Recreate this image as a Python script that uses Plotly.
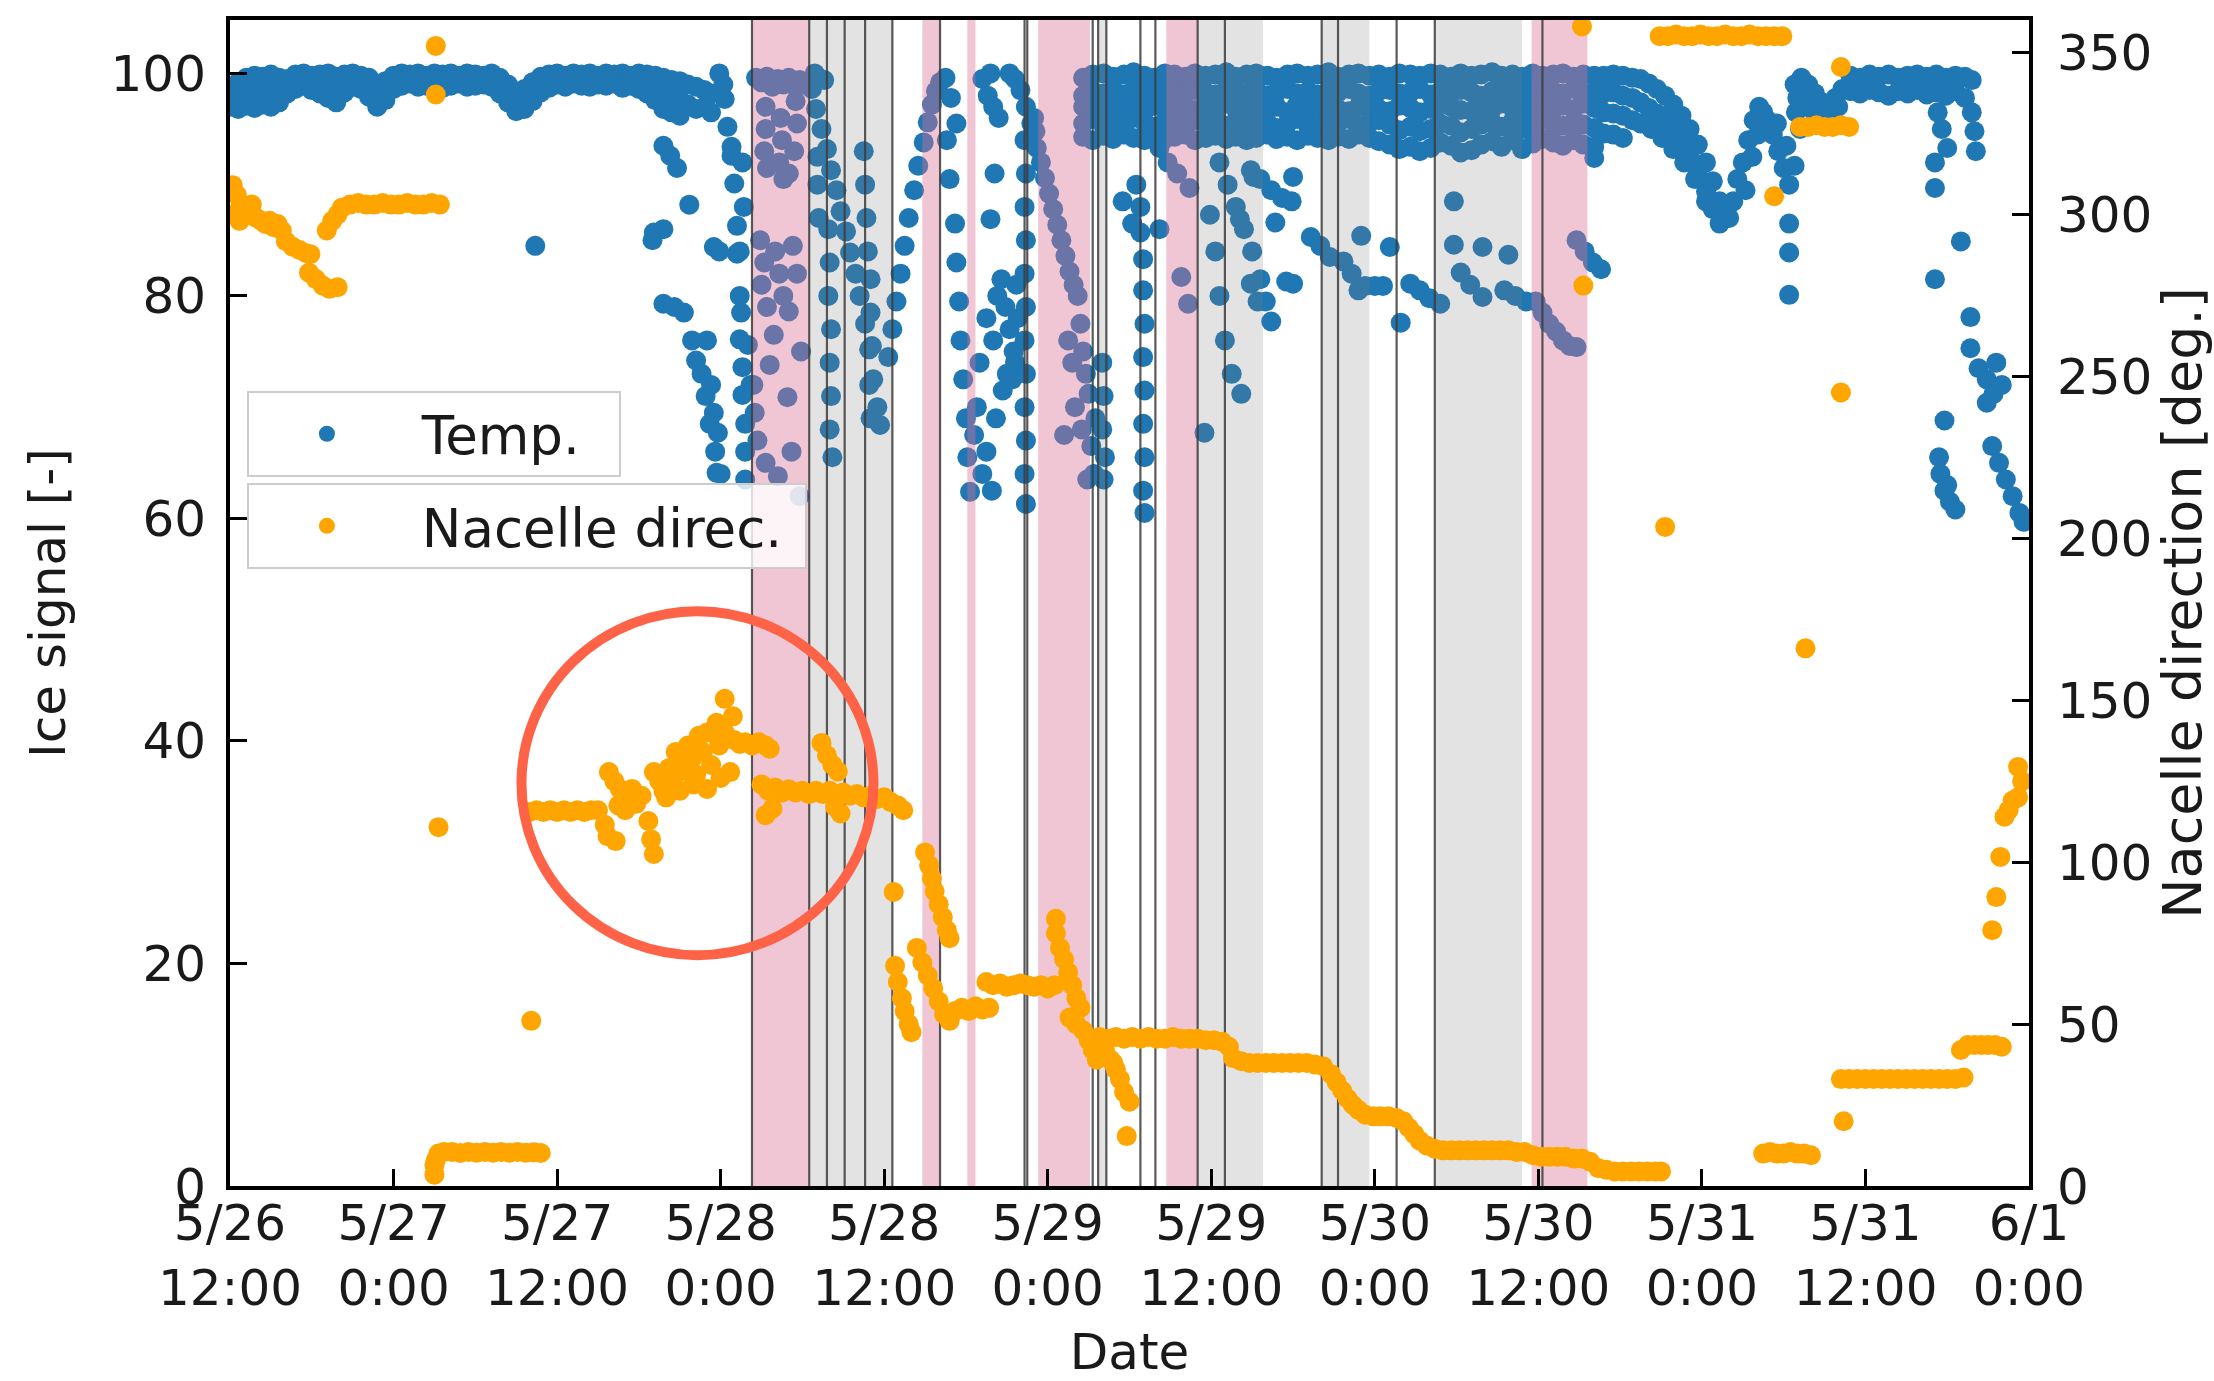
import pandas as pd
import plotly.graph_objects as go

START = pd.Timestamp("2020-05-26 12:00")
END = pd.Timestamp("2020-06-01 00:00")

# ---------------- tick labels ----------------
tick_times = ["2020-05-26 12:00", "2020-05-27 00:00", "2020-05-27 12:00", "2020-05-28 00:00",
              "2020-05-28 12:00", "2020-05-29 00:00", "2020-05-29 12:00", "2020-05-30 00:00",
              "2020-05-30 12:00", "2020-05-31 00:00", "2020-05-31 12:00", "2020-06-01 00:00"]
tick_labels = ["5/26<br>12:00", "5/27<br>0:00", "5/27<br>12:00", "5/28<br>0:00", "5/28<br>12:00",
               "5/29<br>0:00", "5/29<br>12:00", "5/30<br>0:00", "5/30<br>12:00", "5/31<br>0:00",
               "5/31<br>12:00", "6/1<br>0:00"]

# ---------------- Temp. (ice signal), hours after 5/26 12:00 ----------------
temp_band1_hours = [0.0, 0.6, 1.2, 1.8, 2.4, 3.0, 3.6, 4.2, 4.8, 5.4, 6.0, 6.6, 7.2, 7.8, 8.4, 9.0, 9.6,
                    10.2, 10.8, 11.4, 12.0, 12.6, 13.2, 13.8, 14.4, 15.0, 15.6, 16.2, 16.8, 17.4, 18.0,
                    18.6, 19.2, 19.8, 20.4, 21.0, 21.6, 22.2, 22.8, 23.4, 24.0, 24.6, 25.2, 25.8, 26.4,
                    27.0, 27.6, 28.2, 28.8, 29.4, 30.0, 30.6, 31.2, 31.8, 32.4]
temp_band1_top = [98.8, 99.2, 99.6, 99.8, 99.7, 99.9, 99.6, 99.5, 99.9, 100.0, 99.8, 99.9, 100.0, 99.7,
                  99.9, 100.0, 99.8, 99.6, 99.0, 99.3, 99.8, 100.0, 99.9, 100.0, 99.8, 100.0, 99.9,
                  100.0, 99.8, 100.0, 99.9, 99.8, 100.0, 99.6, 99.0, 98.3, 98.6, 99.2, 99.7, 99.9,
                  100.0, 99.8, 100.0, 99.9, 100.0, 99.8, 100.0, 99.9, 100.0, 99.8, 100.0, 99.9, 99.8,
                  99.6, 99.4]
temp_band1_mid = [97.9, 98.0, 98.3, 98.4, 98.5, 98.4, 98.5, 98.9, 99.2, 99.4, 99.2, 99.0, 98.9, 98.5,
                  99.1, 99.4, 99.2, 98.8, 98.0, 98.4, 99.2, 99.4, 99.5, 99.4, 99.3, 99.5, 99.3, 99.4,
                  99.5, 99.3, 99.4, 99.4, 99.4, 98.9, 98.2, 97.4, 97.7, 98.3, 99.0, 99.3, 99.5, 99.3,
                  99.5, 99.4, 99.4, 99.4, 99.5, 99.5, 99.3, 99.4, 99.3, 99.0, 98.7, 98.2, 98.0]
temp_band1_low = [97.0, 96.8, 97.1, 96.9, 97.2, 97.0, 97.4, 98.2, 98.6, 98.9, 98.5, 98.2, 97.8, 97.4,
                  98.3, 98.8, 98.6, 97.9, 97.0, 97.6, 98.6, 98.9, 99.1, 98.8, 98.9, 99.0, 98.7, 98.9,
                  99.1, 98.8, 98.9, 99.0, 98.8, 98.2, 97.4, 96.6, 96.8, 97.5, 98.3, 98.7, 99.0, 98.8,
                  99.1, 98.9, 98.8, 99.0, 98.9, 99.1, 98.7, 98.9, 98.6, 98.2, 97.6, 96.8, 96.5]

temp_band2_hours = [62.6, 63.3, 64.1, 64.8, 65.6, 66.3, 67.1, 67.8, 68.6, 69.3, 70.1, 70.8, 71.6, 72.3,
                    73.1, 73.8, 74.6, 75.3, 76.1, 76.8, 77.6, 78.3, 79.1, 79.8, 80.6, 81.3, 82.1, 82.8,
                    83.6, 84.3, 85.1, 85.8, 86.6, 87.3, 88.1, 88.8, 89.6, 90.3, 91.1, 91.8, 92.6, 93.3,
                    94.1, 94.8, 95.6, 96.3, 97.1, 97.8, 98.6, 99.3, 100.1]
temp_band2_r1 = [99.6, 99.9, 100.0, 99.7, 99.9, 100.1, 99.8, 99.6, 100.0, 99.9, 99.7, 100.0, 99.8, 99.9,
                 100.1, 99.7, 99.9, 100.0, 99.8, 99.6, 99.9, 100.0, 99.8, 99.9, 100.1, 99.7, 99.9, 100.0,
                 99.8, 99.9, 99.7, 100.0, 99.9, 99.8, 100.0, 99.9, 99.7, 100.0, 99.8, 99.9, 100.1, 99.8,
                 99.9, 99.7, 100.0, 99.8, 99.9, 100.0, 99.7, 99.9, 99.8]
temp_band2_r2 = [98.0, 98.4, 98.2, 98.6, 98.1, 98.5, 98.3, 98.0, 98.4, 98.6, 98.2, 98.5, 98.3, 98.1, 98.6,
                 98.4, 98.2, 98.5, 98.0, 98.3, 98.6, 98.2, 98.4, 98.1, 98.5, 98.3, 98.6, 98.2, 98.0, 98.4,
                 98.5, 98.2, 98.3, 98.6, 98.1, 98.4, 98.2, 98.5, 98.3, 98.0, 98.4, 98.6, 98.2, 98.3, 98.5,
                 98.1, 98.4, 98.2, 98.6, 98.3, 98.4]
temp_band2_r3 = [97.0, 97.3, 96.8, 97.2, 96.9, 97.3, 96.6, 97.1, 96.8, 97.3, 97.0, 96.7, 97.2, 96.9, 97.3,
                 96.8, 97.1, 97.3, 96.8, 97.0, 96.5, 97.2, 96.7, 96.9, 97.3, 96.8, 96.6, 97.0, 97.2, 96.8,
                 96.6, 97.1, 96.9, 96.5, 96.8, 97.2, 97.0, 96.7, 96.6, 97.1, 96.8, 97.3, 96.9, 96.6, 97.0,
                 97.2, 96.8, 97.1, 96.8, 97.3, 96.9]
temp_band2_r4 = [95.5, 95.9, 95.3, 95.8, 95.4, 96.0, 95.6, 95.2, 95.7, 95.9, 95.4, 95.8, 95.5, 96.0, 95.3,
                 95.7, 95.4, 95.8, 95.6, 95.1, 95.5, 95.9, 95.3, 95.2, 95.7, 95.5, 95.9, 95.3, 95.6, 95.8,
                 95.4, 94.9, 95.2, 94.8, 95.0, 95.5, 95.3, 94.7, 95.0, 95.4, 95.6, 95.2, 95.7, 95.0, 95.4,
                 95.8, 95.5, 95.3, 95.6, 95.4, 95.1]
temp_band2_r5 = [94.3, 94.0, 94.4, 94.1, 94.5, 94.2, 94.0, 94.4, 94.1, 94.3, 94.5, 94.0, 94.2, 94.4, 94.1,
                 94.3, 94.0, 94.2, 94.5, 94.1, 94.3, 94.0, 94.4, 94.2, 94.0, 94.3, 94.1, 94.5, 94.2, 93.9,
                 93.6, 93.2, 93.4, 93.0, 93.3, 93.8, 93.5, 92.9, 93.1, 93.6, 93.9, 93.4, 94.0, 93.2, 93.7,
                 94.1, 93.8, 93.5, 94.0, 93.6, 93.4]

# scattered readings (hour, value)
temp_scatter = [
    (22.4, 84.5),
    (33.0, 99.3), (33.0, 97.6), (33.0, 96.2), (33.6, 99.0), (33.6, 97.2), (34.2, 98.8), (34.2, 96.8),
    (34.8, 98.5), (34.8, 97.0), (35.3, 98.2), (35.3, 96.5), (32.4, 97.8), (31.8, 98.2),
    (31.1, 85.7), (31.0, 85.0), (31.8, 79.3), (31.8, 86.0), (32.6, 79.0), (33.3, 78.5), (33.7, 88.2),
    (32.8, 91.5), (32.3, 92.6), (31.8, 93.5), (33.9, 76.0), (34.2, 74.2), (34.6, 73.0), (34.9, 71.0),
    (35.2, 68.5), (35.6, 66.0), (36.0, 64.0), (35.0, 76.0), (35.3, 72.0), (35.5, 69.5), (35.8, 67.7),
    (35.7, 64.1), (35.9, 84.0), (35.5, 84.4),
    (35.9, 100.0), (36.2, 99.0), (36.3, 97.7), (36.5, 95.2), (36.8, 93.4), (36.8, 92.6), (37.0, 90.1),
    (37.2, 86.3), (37.2, 83.8), (37.4, 80.0), (37.4, 84.0), (37.5, 78.5), (37.4, 76.1), (37.6, 73.6),
    (37.6, 71.1), (37.8, 68.5), (37.8, 66.0), (37.8, 63.5), (37.6, 92.0), (37.7, 88.0), (38.0, 75.6),
    (38.2, 72.0), (38.5, 69.5), (38.7, 67.0),
    (38.6, 99.6), (39.0, 99.2), (39.4, 99.7), (39.8, 98.8), (40.2, 99.5), (40.6, 99.0), (41.0, 99.6),
    (41.4, 98.9), (41.8, 99.4), (42.2, 99.0),
    (39.3, 97.0), (39.3, 95.0), (39.2, 93.0), (39.4, 91.5), (40.4, 96.0), (40.5, 94.0), (40.3, 92.0),
    (40.6, 90.5), (41.5, 97.5), (41.6, 95.5), (41.4, 93.0), (41.0, 91.0),
    (38.9, 85.0), (39.2, 83.0), (39.0, 81.0), (39.4, 79.0), (40.0, 84.0), (40.3, 82.0), (40.6, 80.0),
    (41.0, 78.6), (41.3, 84.5), (41.6, 82.0), (39.6, 73.8), (40.9, 70.9), (39.3, 65.0), (40.2, 63.8),
    (41.2, 66.0), (41.8, 62.0), (38.4, 72.0), (39.9, 76.5), (41.9, 75.0),
    (42.7, 98.6), (43.0, 96.8), (43.4, 95.0), (43.8, 93.2), (44.1, 91.3), (44.5, 89.5), (44.8, 87.6),
    (45.2, 85.8), (45.5, 83.9), (45.9, 82.0), (46.2, 80.0), (46.6, 77.5), (46.9, 75.2), (47.2, 72.5),
    (47.5, 70.0), (47.7, 68.4),
    (43.1, 99.7), (43.1, 92.5), (43.1, 90.0), (43.2, 87.0), (42.9, 100.0), (43.6, 99.4),
    (43.9, 86.0), (44.0, 83.0), (43.9, 80.0), (44.1, 77.0), (44.0, 74.0), (44.1, 71.0), (44.0, 68.0),
    (44.2, 65.5),
    (46.5, 93.0), (46.6, 90.0), (46.7, 87.0), (46.8, 84.0), (47.0, 81.5), (47.0, 78.5), (47.1, 75.5),
    (46.9, 72.0), (47.0, 69.0),
    (48.3, 74.5), (48.6, 77.0), (48.9, 79.5), (49.2, 82.0), (49.5, 84.5), (49.8, 87.0), (50.2, 89.5),
    (50.5, 91.7), (50.9, 93.8), (51.2, 95.6), (51.5, 97.2), (51.8, 98.4), (52.1, 99.2),
    (52.5, 99.6), (52.9, 97.8), (53.3, 95.5), (52.6, 94.0), (52.8, 90.5),
    (53.2, 86.5), (53.3, 83.0), (53.5, 79.5), (53.6, 76.0), (53.8, 72.5), (54.0, 69.0), (54.1, 65.5),
    (54.3, 62.4),
    (55.2, 99.5), (55.6, 98.0), (56.0, 97.0), (56.4, 96.0), (55.8, 100.0), (55.8, 86.9), (56.1, 91.0),
    (54.8, 70.0), (55.0, 74.0), (55.5, 78.0), (56.0, 76.0), (56.3, 80.0), (56.6, 81.5), (56.9, 79.0),
    (57.2, 77.0), (57.5, 75.0), (57.0, 73.0), (56.7, 71.5), (57.4, 72.5), (56.2, 69.0), (57.7, 81.0),
    (57.8, 78.0), (57.6, 74.0), (55.5, 66.0), (54.6, 67.5), (55.9, 62.5), (55.2, 64.0),
    (57.6, 99.5), (58.0, 98.5), (58.4, 97.0), (58.8, 95.5), (57.2, 100.0),
    (58.3, 94.0), (58.4, 91.0), (58.3, 88.0), (58.4, 85.0), (58.3, 82.0), (58.4, 79.0), (58.3, 76.0),
    (58.4, 73.0), (58.3, 70.0), (58.4, 67.0), (58.3, 64.0), (58.4, 61.3),
    (59.2, 93.3), (59.5, 92.0), (59.8, 90.6), (60.1, 89.2), (60.4, 87.8), (60.7, 86.4), (61.0, 85.0),
    (61.3, 83.6), (61.6, 82.2), (61.9, 81.0), (62.2, 80.0), (62.4, 77.5), (62.6, 75.0), (62.8, 73.0),
    (63.0, 71.2), (59.0, 96.0), (59.1, 94.8),
    (61.5, 76.0), (61.8, 74.0), (62.0, 70.0), (62.5, 68.0), (63.2, 66.5), (63.5, 69.0), (63.4, 64.0),
    (62.9, 63.5), (61.2, 67.5),
    (64.0, 74.0), (64.1, 71.0), (64.0, 68.0), (64.2, 65.5), (64.1, 63.5),
    (65.5, 88.5), (66.2, 86.5), (66.8, 85.7), (68.2, 86.0), (66.5, 90.0), (66.8, 88.0), (67.0, 83.3),
    (67.0, 80.5), (67.1, 77.5), (67.0, 74.5), (67.1, 71.5), (67.0, 68.5), (67.1, 65.5), (67.0, 62.5),
    (67.1, 60.5),
    (68.2, 93.3), (68.8, 92.0), (69.5, 91.0), (70.4, 89.7), (69.8, 81.7), (70.3, 79.3), (71.5, 67.7),
    (71.9, 87.3), (72.3, 84.0), (72.6, 80.0), (73.0, 76.0), (73.5, 73.0), (74.2, 71.2),
    (72.6, 92.0), (73.2, 90.0), (73.8, 88.0), (74.4, 86.0), (75.0, 84.0), (75.6, 81.5), (76.0, 79.5),
    (76.4, 77.7),
    (74.9, 91.3), (75.6, 90.5), (76.4, 89.5), (77.2, 88.8), (77.9, 88.5), (77.5, 81.3),
    (74.1, 86.9), (76.7, 86.6), (74.9, 81.1), (75.4, 79.5), (78.0, 81.1), (78.0, 90.7), (75.1, 90.7),
    (79.3, 85.3), (80.0, 84.5), (80.7, 83.5), (81.7, 83.1), (83.0, 85.4), (82.3, 82.0), (82.8, 80.5),
    (83.3, 80.9), (84.0, 80.9), (84.6, 80.9), (85.1, 84.4), (85.9, 77.6), (86.6, 81.1), (87.3, 80.5),
    (88.0, 79.8), (88.8, 79.3), (89.8, 88.5), (89.8, 84.6), (90.3, 82.1), (91.0, 81.0), (91.9, 79.9),
    (91.9, 84.4), (93.8, 83.7), (93.5, 80.5), (94.3, 80.0), (95.1, 79.5),
    (95.8, 79.5), (96.3, 78.5), (96.8, 77.5), (97.3, 76.8), (97.8, 76.0), (98.3, 75.5), (98.8, 75.4),
    (98.8, 85.0), (99.4, 84.0), (100.0, 83.0), (100.6, 82.4), (100.1, 92.4),
]

temp_tail = [
    (100.8, 99.8), (100.8, 98.2), (100.8, 96.5), (100.8, 94.6), (101.5, 99.9), (101.5, 98.3),
    (101.5, 96.4), (101.5, 94.5), (102.2, 99.8), (102.2, 98.0), (102.2, 96.2), (102.2, 94.2),
    (102.9, 99.6), (102.9, 97.8), (102.9, 95.8),
    (103.5, 99.5), (104.1, 99.1), (104.7, 98.6), (105.3, 98.0), (105.9, 97.2), (106.5, 96.2),
    (107.1, 95.0), (107.7, 93.6), (108.3, 92.0), (108.8, 90.3), (109.3, 88.5), (109.7, 87.0),
    (103.5, 97.4), (104.1, 96.9), (104.7, 96.4), (105.3, 95.8), (105.9, 95.0), (106.5, 93.9),
    (107.1, 92.5), (107.7, 91.0), (108.3, 89.4), (108.8, 87.8), (109.3, 86.5),
    (103.5, 95.5), (104.3, 95.0), (105.1, 94.2), (105.9, 93.2), (106.7, 92.0), (107.5, 90.5),
    (108.3, 88.5),
    (110.0, 87.0), (110.3, 88.5), (110.6, 90.5), (111.0, 92.0), (111.4, 94.0), (111.8, 95.8),
    (112.2, 97.0), (112.5, 96.5), (112.8, 95.8), (113.2, 94.5), (113.6, 93.0), (114.0, 91.5),
    (114.4, 90.0), (111.2, 89.5), (111.7, 92.5), (112.1, 94.5), (113.5, 95.5), (114.2, 93.5),
    (114.8, 91.7), (114.4, 86.5), (114.4, 83.9), (114.4, 80.1),
    (114.8, 99.0), (115.3, 99.6), (115.8, 99.0), (116.3, 98.2), (116.8, 97.4), (117.3, 97.2),
    (117.8, 97.8), (118.3, 98.6), (115.0, 97.8), (115.6, 97.2), (116.2, 96.6), (116.8, 96.0),
    (117.4, 96.3), (118.0, 97.0), (114.9, 96.5), (115.2, 95.0),
    (118.9, 99.8), (119.6, 99.6), (120.3, 99.9), (121.0, 99.7), (121.7, 99.9), (122.4, 99.6),
    (123.1, 99.8), (123.8, 99.9), (124.5, 99.7), (125.2, 99.9), (125.9, 99.6), (126.6, 99.8),
    (127.3, 99.7), (127.8, 99.4),
    (118.9, 98.4), (119.6, 98.2), (120.3, 98.5), (121.0, 98.3), (121.7, 98.0), (122.4, 98.4),
    (123.1, 98.2), (123.8, 98.5), (124.5, 98.1), (125.2, 98.3), (125.9, 98.0), (126.6, 98.4),
    (127.3, 97.8),
    (125.3, 96.5), (125.6, 95.0), (126.0, 93.3), (125.1, 92.0), (125.1, 89.7), (127.8, 96.5),
    (128.0, 94.8), (128.1, 93.0), (127.0, 84.9), (125.1, 81.5), (127.7, 78.1), (127.7, 75.3),
    (128.3, 73.5), (128.9, 72.5), (129.4, 71.2), (128.9, 70.4), (125.8, 68.8), (125.5, 64.0),
    (125.8, 62.5), (126.2, 61.5), (126.6, 60.8), (129.3, 66.5), (129.8, 65.0), (130.3, 63.5),
    (130.8, 62.0), (131.3, 60.5), (131.6, 59.7), (125.4, 65.5), (126.0, 63.0), (129.6, 74.0),
    (130.0, 72.0),
]

# ---------------- Nacelle direction (deg), hours after 5/26 12:00 ----------------
nacelle_a = [
    (0.2, 309), (0.5, 306), (0.8, 303), (1.2, 301), (1.6, 303), (0.3, 300), (0.7, 298), (1.9, 299),
    (2.3, 298), (2.6, 297), (2.9, 298), (3.2, 296), (3.5, 297), (3.8, 295),
    (4.1, 291.7), (4.6, 290), (5.1, 289), (5.6, 288), (5.9, 287.7),
    (5.8, 282), (6.3, 280), (6.8, 278), (7.3, 277), (7.9, 277.5),
    (7.1, 295), (7.5, 298), (7.9, 300),
    (8.2, 302), (8.8, 303), (9.4, 303.5), (10.0, 303), (10.6, 303), (11.2, 303.5), (11.8, 303),
    (12.4, 303), (13.0, 303.5), (13.6, 303), (14.2, 303), (14.8, 303.5), (15.4, 303),
    (15.1, 352), (15.1, 337), (15.3, 110.8), (22.1, 51),
    (15.0, 3.5), (15.0, 6.5), (15.1, 8), (15.3, 10), (15.7, 10.5), (16.3, 10.5), (16.9, 10.2),
    (17.5, 10.5), (18.1, 10.3), (18.7, 10.5), (19.3, 10.3), (19.9, 10.5), (20.5, 10.3), (21.1, 10.5),
    (21.7, 10.3), (22.3, 10.4), (22.8, 10.2),
]
nacelle_b = [
    (22.0, 115.5), (22.5, 116), (23.0, 115.5), (23.5, 116), (24.0, 115.5), (24.5, 116), (25.0, 115.5),
    (25.5, 116), (26.0, 115.5), (26.5, 116), (27.0, 116),
    (27.5, 111.5), (27.7, 108), (28.3, 106.5), (27.8, 127.8), (28.2, 125), (28.6, 122.6), (29.0, 120),
    (29.5, 122.6), (29.8, 118), (30.2, 120.5), (30.7, 112.7), (30.9, 107), (31.1, 102.5),
    (31.1, 127.8), (31.5, 125), (31.8, 122), (32.2, 129), (32.5, 124), (32.7, 134), (33.0, 128),
    (33.3, 131), (33.6, 136), (33.9, 132), (34.2, 127), (34.4, 139), (34.7, 134), (35.0, 122.6),
    (35.0, 140), (35.3, 130), (35.7, 143), (35.9, 136), (36.0, 126), (36.3, 150.4), (36.3, 140),
    (36.7, 127.8), (36.9, 145), (37.0, 137.7), (37.4, 136.5), (37.8, 137), (38.3, 136), (38.8, 137),
    (39.3, 136), (39.6, 135),
    (32.0, 120), (33.0, 122), (34.0, 124), (29.0, 116), (28.5, 117.5),
    (39.0, 124), (39.5, 122), (40.0, 123), (40.5, 121.5), (41.0, 122.5), (41.5, 121.5), (42.0, 122),
    (42.5, 121), (43.0, 122), (43.5, 121), (44.0, 122), (44.5, 121), (45.0, 121.5), (45.5, 120.5),
    (46.0, 121), (46.5, 120), (47.0, 120.5), (47.5, 119.5), (48.0, 120), (48.5, 118.5), (49.0, 117.5),
    (49.4, 116),
    (39.3, 114.5), (39.8, 116.5), (43.4, 136.8), (43.8, 133), (44.2, 130), (44.6, 128), (44.4, 117),
    (44.8, 115),
]
nacelle_c = [
    (48.7, 90.8), (48.8, 68), (49.0, 63), (49.3, 58), (49.5, 54), (49.8, 50), (50.0, 47.5),
    (51.0, 103), (51.3, 99), (51.5, 95), (51.7, 91), (52.0, 87), (52.3, 83), (52.6, 79), (52.8, 76.5),
    (50.4, 73.5), (50.8, 69), (51.2, 65), (51.6, 61), (52.0, 57), (52.4, 53), (52.8, 51),
    (53.2, 54), (53.7, 55), (54.2, 54), (54.7, 55.5), (55.2, 54.5), (55.7, 55),
    (55.5, 63), (56.0, 62), (56.5, 62.5), (57.0, 61.5), (57.5, 62), (58.0, 62.5), (58.5, 62),
    (59.0, 61.5), (59.5, 62), (60.0, 61), (60.5, 62),
    (60.6, 82.5), (60.6, 78), (60.9, 73.5), (61.2, 70), (61.5, 66), (61.8, 62), (62.1, 58), (62.4, 55),
    (62.1, 50), (62.6, 48), (63.0, 45), (63.3, 42), (63.6, 39), (61.6, 52),
    (64.2, 42), (64.6, 39), (65.0, 36), (65.3, 33), (65.6, 29), (66.0, 26), (65.8, 15.4), (64.8, 38),
    (63.8, 46), (64.4, 45.5), (65.0, 46), (65.6, 45.5), (66.2, 46), (66.8, 45.5), (67.4, 46),
    (68.0, 45.5), (68.6, 45.5), (69.2, 46), (69.8, 45.5), (70.4, 45.5), (71.0, 45.5), (71.6, 45),
    (72.2, 45), (72.8, 44.5), (73.3, 43),
    (73.6, 39.5), (74.2, 38.5), (74.8, 38), (75.4, 38), (76.0, 38), (76.6, 38), (77.2, 38), (77.8, 38),
    (78.4, 38), (79.0, 38), (79.6, 37.5), (80.2, 37),
    (80.8, 34.5), (81.2, 32), (81.6, 29.5), (82.0, 27), (82.4, 25), (82.8, 23.5), (83.3, 22),
    (83.9, 21.5), (84.4, 21.5), (85.0, 21.5), (85.6, 21), (86.1, 20), (86.5, 18), (86.9, 16),
    (87.3, 14), (87.8, 12.5), (88.4, 11.5),
    (89.0, 11), (89.6, 11), (90.2, 11), (90.8, 11), (91.4, 11), (92.0, 11), (92.6, 11), (93.2, 11),
    (93.8, 11), (94.4, 10.5), (95.0, 10.5), (95.6, 9.5), (96.2, 9), (96.8, 9), (97.4, 9), (98.0, 9),
    (98.6, 8.5), (99.2, 8.5), (99.8, 7.5), (100.4, 5.5), (101.0, 5), (101.6, 4.5), (102.2, 4.5),
    (102.8, 4.5), (103.4, 4.5), (104.0, 4.5), (104.6, 4.5), (105.0, 4.5),
]
nacelle_d = [
    (99.2, 358), (99.3, 278),
    (104.9, 355), (105.5, 355), (106.1, 355.5), (106.7, 355), (107.3, 355), (107.9, 355.5),
    (108.5, 355), (109.1, 355), (109.7, 355.5), (110.3, 355), (110.9, 355), (111.5, 355.5),
    (112.1, 355), (112.7, 355), (113.3, 355), (113.9, 355),
    (113.3, 305.6), (105.3, 203.5),
    (115.2, 327), (115.8, 327), (116.4, 327.5), (117.0, 327), (117.6, 327), (118.2, 327.5), (118.8, 327),
    (118.2, 345.5), (118.2, 245), (115.6, 166),
    (112.5, 10), (113.0, 10.5), (113.5, 10), (114.0, 10), (114.5, 10.5), (115.0, 10), (115.5, 10),
    (116.0, 9.5),
    (118.4, 20), (118.2, 33), (118.8, 33), (119.4, 33), (120.0, 33), (120.6, 33), (121.2, 33),
    (121.8, 33), (122.4, 33), (123.0, 33), (123.6, 33), (124.2, 33), (124.8, 33), (125.4, 33),
    (126.0, 33), (126.6, 33), (127.2, 33.5),
    (127.0, 42), (127.5, 43.5), (128.0, 43.5), (128.5, 43.5), (129.0, 43.5), (129.5, 43.5), (130.0, 43),
    (129.3, 79), (129.6, 89.2), (129.9, 101.6), (130.2, 114), (130.5, 116), (130.8, 119), (131.2, 120),
    (131.5, 125), (131.2, 129.4),
]

# ---------------- event periods (hours after 5/26 12:00) ----------------
pink_spans = [(38.3, 42.5), (50.8, 52.1), (54.1, 54.7), (59.3, 63.1), (68.7, 71.0), (95.5, 99.6)]
grey_spans = [(42.5, 48.6), (63.7, 64.3), (71.0, 75.8), (80.1, 83.6), (88.4, 94.8)]
event_lines = [38.3, 42.5, 43.8, 45.1, 46.6, 48.6, 52.1, 58.3, 58.5, 63.3, 63.7, 64.3, 66.8, 67.9,
               71.0, 73.0, 80.1, 81.3, 85.6, 88.4, 96.3]

highlight_center = (34.3, 36.2)  # (hour, ice signal)


def to_time(hours):
    return [START + pd.Timedelta(hours=h) for h in hours]


# assemble Temp.
t_h, t_v = [], []
for row in (temp_band1_top, temp_band1_mid, temp_band1_low):
    t_h += temp_band1_hours
    t_v += row
for row in (temp_band2_r1, temp_band2_r2, temp_band2_r3, temp_band2_r4, temp_band2_r5):
    t_h += temp_band2_hours
    t_v += row
for h, v in temp_scatter + temp_tail:
    t_h.append(h)
    t_v.append(v)

n_h, n_v = [], []
for h, v in nacelle_a + nacelle_b + nacelle_c + nacelle_d:
    n_h.append(h)
    n_v.append(v)


def span_polys(spans):
    xs, ys = [], []
    for a, b in spans:
        ta, tb = to_time([a, b])
        xs += [ta, ta, tb, tb, ta, None]
        ys += [0, 360, 360, 0, 0, None]
    return xs, ys


fig = go.Figure()

MS = 20
fig.add_trace(go.Scatter(
    x=to_time(t_h), y=t_v, mode="markers", name="\u00a0Temp.\u00a0\u00a0",
    marker=dict(color="#1f77b4", size=MS, line=dict(width=0)),
    yaxis="y", legend="legend", hoverinfo="skip"))

px_, py_ = span_polys(pink_spans)
fig.add_trace(go.Scatter(x=px_, y=py_, mode="lines", fill="toself",
                         fillcolor="rgba(219,112,147,0.40)", line=dict(width=0),
                         yaxis="y2", showlegend=False, hoverinfo="skip"))
gx_, gy_ = span_polys(grey_spans)
fig.add_trace(go.Scatter(x=gx_, y=gy_, mode="lines", fill="toself",
                         fillcolor="rgba(128,128,128,0.22)", line=dict(width=0),
                         yaxis="y2", showlegend=False, hoverinfo="skip"))

lx, ly = [], []
for t in to_time(event_lines):
    lx += [t, t, None]
    ly += [0, 360, None]
fig.add_trace(go.Scatter(x=lx, y=ly, mode="lines",
                         line=dict(color="rgba(60,60,60,0.85)", width=2.2),
                         yaxis="y2", showlegend=False, hoverinfo="skip"))

fig.add_trace(go.Scatter(
    x=to_time(n_h), y=n_v, mode="markers", name="\u00a0Nacelle direc.\u00a0",
    marker=dict(color="#FFA500", size=MS, line=dict(width=0)),
    yaxis="y2", legend="legend2", hoverinfo="skip"))

axis_common = dict(showgrid=False, zeroline=False, showline=True, linecolor="black", linewidth=4,
                   ticks="inside", ticklen=17, tickwidth=3, tickcolor="black", automargin=False,
                   tickfont=dict(family="DejaVu Sans", size=50, color="#1a1a1a"))

ch, cv = highlight_center
fig.update_layout(
    width=2214, height=1381,
    margin=dict(l=230, r=185, t=20, b=195),
    plot_bgcolor="white", paper_bgcolor="white",
    font=dict(family="DejaVu Sans", size=50, color="#1a1a1a"),
    xaxis=dict(type="date", range=[START, END], tickvals=tick_times, ticktext=tick_labels,
               mirror=True, ticklabelstandoff=-10,
               title=dict(text="Date", standoff=45, font=dict(size=50)), **axis_common),
    yaxis=dict(range=[0, 104.8], tickvals=[0, 20, 40, 60, 80, 100], ticklabelstandoff=10,
               title=dict(text="Ice signal [-]", standoff=30, font=dict(size=50)), **axis_common),
    yaxis2=dict(overlaying="y", side="right", range=[0, 360],
                tickvals=[0, 50, 100, 150, 200, 250, 300, 350], ticklabelstandoff=14,
                title=dict(text="Nacelle direction [deg.]", standoff=22, font=dict(size=54)),
                **axis_common),
    legend=dict(x=0.0094, y=0.682, xanchor="left", yanchor="top",
                bgcolor="rgba(255,255,255,0.8)", bordercolor="#cccccc", borderwidth=2,
                font=dict(family="DejaVu Sans", size=53, color="#1a1a1a"), itemwidth=146),
    legend2=dict(x=0.0094, y=0.603, xanchor="left", yanchor="top",
                 bgcolor="rgba(255,255,255,0.8)", bordercolor="#cccccc", borderwidth=2,
                 font=dict(family="DejaVu Sans", size=53, color="#1a1a1a"), itemwidth=146),
    shapes=[dict(type="circle", xref="x", yref="y", layer="above",
                 xsizemode="pixel", ysizemode="pixel",
                 xanchor=START + pd.Timedelta(hours=ch), yanchor=cv,
                 x0=-176, x1=176, y0=-172, y1=172,
                 line=dict(color="#FF6347", width=10))],
)

fig.write_html("out.html")
